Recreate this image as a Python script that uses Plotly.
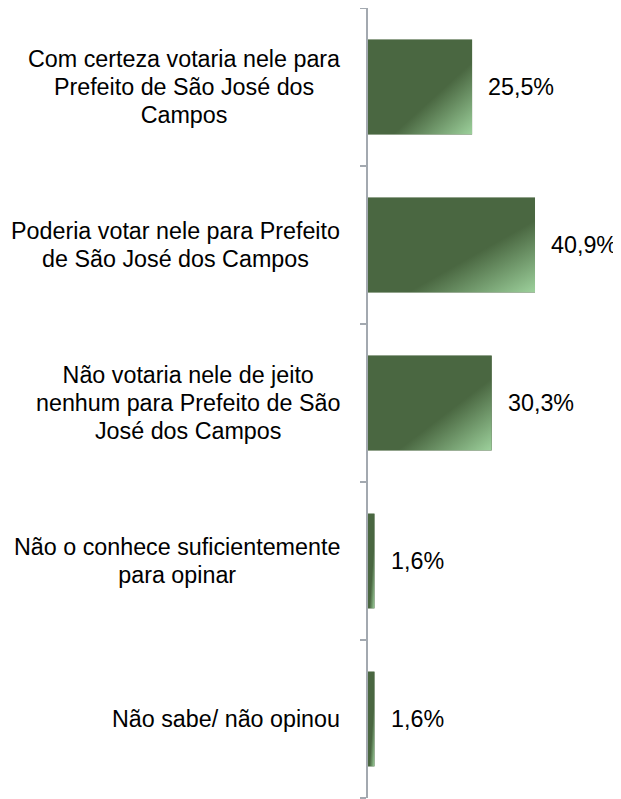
import base64
import plotly.graph_objects as go

categories = [
    ["Com certeza votaria nele para", "Prefeito de São José dos", "Campos"],
    ["Poderia votar nele para Prefeito", "de São José dos Campos"],
    ["Não votaria nele de jeito", "nenhum para Prefeito de São", "José dos Campos"],
    ["Não o conhece suficientemente", "para opinar"],
    ["Não sabe/ não opinou"],
]
values = [25.5, 40.9, 30.3, 1.6, 1.6]
value_labels = ["25,5%", "40,9%", "30,3%", "1,6%", "1,6%"]

DARK = "#4a6741"
LIGHT = "#9dd19c"
FAMILY = "Liberation Sans, Arial, sans-serif"
TXT_SIZE = 23.3
FONT = dict(family=FAMILY, size=TXT_SIZE, color="#000000")
# smaller base size only sets the line pitch (1.3 em) of the wrapped labels
LABEL_FONT = dict(family=FAMILY, size=21.5, color="#000000")
AXIS_GRAY = "#a3a9b0"
BAR_W = 0.6
ids = list(range(len(categories)))

svg = (
    '<svg xmlns="http://www.w3.org/2000/svg" width="100" height="100" '
    'viewBox="0 0 100 100" preserveAspectRatio="none">'
    '<defs><linearGradient id="g" x1="0" y1="0" x2="1" y2="1">'
    f'<stop offset="0" stop-color="{DARK}"/>'
    f'<stop offset="0.62" stop-color="{DARK}"/>'
    f'<stop offset="1" stop-color="{LIGHT}"/>'
    '</linearGradient></defs>'
    '<rect x="0" y="0" width="100" height="100" fill="url(#g)"/></svg>'
)
grad_src = "data:image/svg+xml;base64," + base64.b64encode(svg.encode()).decode()

fig = go.Figure()
fig.add_trace(go.Bar(
    x=values, y=ids, orientation="h", width=BAR_W,
    marker=dict(color=DARK, line=dict(width=0)),
    hoverinfo="skip",
))

annotations = []
images = []
for i, (cat, v, lab) in enumerate(zip(categories, values, value_labels)):
    text = "<br>".join(
        f"<span style='font-size:{TXT_SIZE}px'>{line}</span>" for line in cat
    )
    annotations.append(dict(
        x=0, xref="paper", y=i, yref="y", text=text, showarrow=False,
        xanchor="right", yanchor="middle", align="center", xshift=-26,
        font=LABEL_FONT,
    ))
    annotations.append(dict(
        x=v, xref="x", y=i, yref="y", text=lab, showarrow=False,
        xanchor="left", yanchor="middle", xshift=14, font=FONT,
    ))
    images.append(dict(
        source=grad_src, xref="x", yref="y", x=0, y=i - BAR_W / 2,
        sizex=v, sizey=BAR_W, xanchor="left", yanchor="top",
        sizing="stretch", layer="above",
    ))

tick_bounds = [i - 0.5 for i in ids] + [ids[-1] + 0.5]

fig.update_layout(
    width=613, height=791,
    margin=dict(l=360, r=8, t=0, b=1),
    paper_bgcolor="white", plot_bgcolor="white",
    showlegend=False,
    annotations=annotations,
    images=images,
    xaxis=dict(range=[0, 60], visible=False, fixedrange=True),
    yaxis=dict(
        range=[ids[-1] + 0.5, -0.5], tickmode="array", tickvals=tick_bounds,
        ticks="outside", ticklen=6, tickwidth=2,
        tickcolor=AXIS_GRAY, showticklabels=False, showgrid=False,
        showline=True, linecolor=AXIS_GRAY, linewidth=2, zeroline=False,
        type="linear",
    ),
)

fig.write_html("out.html")
